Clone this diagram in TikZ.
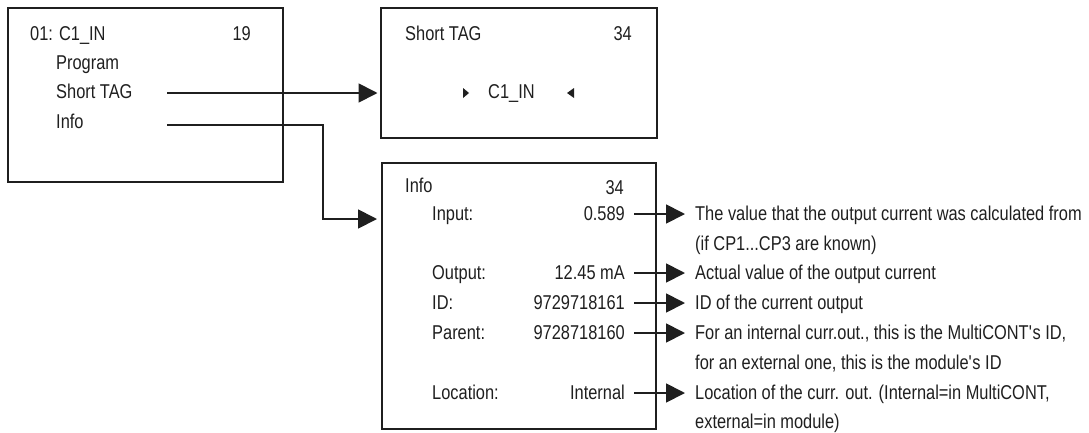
\documentclass[tikz,border=0pt]{standalone}
\usepackage{fontspec}
\setmainfont{Liberation Sans}[FakeStretch=0.82]
\usetikzlibrary{arrows.meta}
\begin{document}
\begin{tikzpicture}[x=1pt,y=-1pt,
  box/.style={draw=black!88, line width=2.2pt, rectangle, inner sep=0pt, anchor=north west},
  txt/.style={inner sep=0pt, text=black!88, font=\fontsize{20}{24}\selectfont},
  lt/.style={txt, anchor=mid west},
  rt/.style={txt, anchor=mid east},
  conn/.style={draw=black!88, line width=1.8pt},
  arr/.style={conn, -{Triangle[length=19pt,width=19pt]}},
  tickmark/.style={fill=black!88, draw=none}
]
\useasboundingbox (0,0) rectangle (1089,432);

% boxes
\node[box, minimum width=275pt, minimum height=174pt] (menu) at (7,7) {};
\node[box, minimum width=276pt, minimum height=130pt] (tagbox) at (380,7) {};
\node[box, minimum width=274pt, minimum height=266pt] (infobox) at (381,162) {};

% left box texts
\node[lt] (m0) at (30,38) {01: C1\_IN};
\node[rt] (m0n) at (251,38) {19};
\node[lt] (m1) at (56,67) {Program};
\node[lt] (m2) at (56,96) {Short TAG};
\node[lt] (m3) at (56,126) {Info};

% top box texts
\node[lt] (t0) at (405,38) {Short TAG};
\node[rt] (t0n) at (632,38) {34};
\node[lt] (tval) at (488,96) {C1\_IN};
\fill[tickmark] (463,88) -- (463,98) -- (469,93) -- cycle;
\fill[tickmark] (574,88) -- (574,98) -- (567,93) -- cycle;

% info box texts
\node[lt] (i0) at (405,190) {Info};
\node[rt] (i0n) at (624,192) {34};
\node[lt] (l1) at (432,218) {Input:};
\node[rt] (v1) at (625,218) {0.589};
\node[lt] (l2) at (432,277) {Output:};
\node[rt] (v2) at (625,277) {12.45 mA};
\node[lt] (l3) at (432,307) {ID:};
\node[rt] (v3) at (625,307) {9729718161};
\node[lt] (l4) at (432,337) {Parent:};
\node[rt] (v4) at (625,337) {9728718160};
\node[lt] (l5) at (432,397) {Location:};
\node[rt] (v5) at (625,397) {Internal};

% descriptions
\node[lt] (d1) at (695,218) {The value that the output current was calculated from};
\node[lt] (d1b) at (695,248) {(if CP1...CP3 are known)};
\node[lt] (d2) at (695,277) {Actual value of the output current};
\node[lt] (d3) at (695,307) {ID of the current output};
\node[lt] (d4) at (695,337) {For an internal curr.out., this is the MultiCONT\textquotesingle s ID,};
\node[lt] (d4b) at (695,367) {for an external one, this is the module\textquotesingle s ID};
\node[lt] (d5) at (695,397) {Location of the curr. out. (Internal=in MultiCONT,};
\node[lt] (d5b) at (695,426) {external=in module)};

% connectors from left menu
\coordinate (s1) at (167,93);
\draw[arr, shorten >=2.5pt] (s1) -- (s1 -| tagbox.west);
\coordinate (s2) at (167,125);
\coordinate (k) at (323,219);
\draw[arr, shorten >=4pt] (s2) -| (k) -- (k -| infobox.west);

% value arrows
\coordinate (a1) at (634,214);
\coordinate (a2) at (634,273);
\coordinate (a3) at (634,303);
\coordinate (a4) at (634,333);
\coordinate (a5) at (634,393);
\draw[arr, shorten >=10pt] (a1) -- (a1 -| d1.west);
\draw[arr, shorten >=10pt] (a2) -- (a2 -| d2.west);
\draw[arr, shorten >=10pt] (a3) -- (a3 -| d3.west);
\draw[arr, shorten >=10pt] (a4) -- (a4 -| d4.west);
\draw[arr, shorten >=10pt] (a5) -- (a5 -| d5.west);
\end{tikzpicture}
\end{document}
